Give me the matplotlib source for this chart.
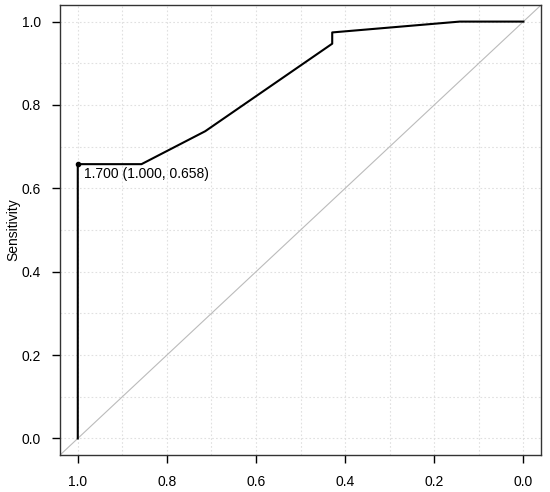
import matplotlib
matplotlib.use("Agg")
import matplotlib.pyplot as plt
import numpy as np

plt.rcParams['font.family'] = ['Liberation Sans', 'DejaVu Sans']

# ROC curve points (specificity, sensitivity)
specificity = [1.0, 1.0, 0.857, 0.714, 0.429, 0.429, 0.143, 0.0]
sensitivity = [0.0, 0.658, 0.658, 0.737, 0.947, 0.974, 1.0, 1.0]
best_spec = 1.0
best_sens = 0.658
best_label = "1.700 (1.000, 0.658)"
ticks = [1.0, 0.8, 0.6, 0.4, 0.2, 0.0]
tick_labels = ["1.0", "0.8", "0.6", "0.4", "0.2", "0.0"]

fig = plt.figure(figsize=(5.5, 4.92), dpi=100)
ax = fig.add_axes([0.109, 0.075, 0.875, 0.915])

# dotted grid every 0.1
for g in np.arange(0, 1.01, 0.1):
    ax.axvline(g, color='#e0e0e0', lw=0.8, ls=(0, (1.5, 2)), zorder=0)
    ax.axhline(g, color='#e0e0e0', lw=0.8, ls=(0, (1.5, 2)), zorder=0)

# chance line
ax.plot([1.2, -0.2], [-0.2, 1.2], color='#bbbbbb', lw=0.8, zorder=1)

ax.plot(specificity, sensitivity, color='black', lw=1.5, zorder=3)
ax.plot([best_spec], [best_sens], 'o', color='black', ms=3, zorder=4)
ax.text(best_spec - 0.015, best_sens - 0.008, best_label, fontsize=10,
        ha='left', va='top')

ax.set_xlim(1.04, -0.04)
ax.set_ylim(-0.04, 1.04)
ax.set_xticks(ticks)
ax.set_xticklabels(tick_labels)
ax.set_yticks(ticks)
ax.set_yticklabels(tick_labels)
ax.tick_params(labelsize=10, length=5.5, width=1, pad=8)
ax.tick_params(axis='x', pad=9)
fig.text(13 / 550, 1 - 230 / 492, "Sensitivity", fontsize=10, rotation=90,
         ha='center', va='center')
for s in ax.spines.values():
    s.set_linewidth(1)
    s.set_color('#333333')

fig.savefig("out.png", dpi=100)
